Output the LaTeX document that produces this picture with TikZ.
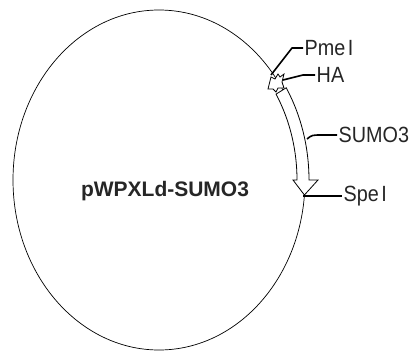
\documentclass[tikz,border=0pt]{standalone}
\usepackage{fontspec}
\setmainfont{Liberation Sans}
\newfontfamily\lblfont[FakeStretch=0.9]{Liberation Sans}
\usetikzlibrary{shapes.geometric}
\tikzset{
  lbl/.style={font=\lblfont\fontsize{22}{22}\selectfont, anchor=west, inner sep=1.5pt, text=black!85},
  leader/.style={line width=1.6pt, line join=round},
  feat/.style={draw=black, line width=0.8pt, fill=white, line join=miter},
}
\begin{document}
\begin{tikzpicture}[x=1pt,y=-1pt]
\useasboundingbox (0,0) rectangle (412,351);
\fill[white] (0,0) rectangle (412,351);
% plasmid backbone
\node[draw, ellipse, line width=0.7pt, minimum width=292pt, minimum height=340pt, inner sep=0pt] (plasmid) at (159,180) {};
\node[font=\bfseries\fontsize{21}{21}\selectfont, anchor=base, text=black!85] (name) at (165,196) {pWPXLd-SUMO3};
% SUMO3 arrow
\draw[feat] plot[domain=32:0, samples=30] ({159+150*cos(\x)},{180-174*sin(\x)})
  -- (318,180) -- (304.4,195) -- (293,180)
  -- plot[domain=0:32, samples=30] ({159+138*cos(\x)},{180-162*sin(\x)}) -- cycle;
% HA feature
\draw[feat] (268,89) -- (271,77) -- (275,79) -- (278,74) -- (280,77) -- (284,74) -- (282,82) -- (284,88) -- (278,88) -- (276,92) -- (273,89) -- cycle;
% labels
\node[lbl] (pme) at (303,48) {Pme\hspace{2.5pt}I};
\node[lbl] (ha) at (315,75) {HA};
\node[lbl] (sumo) at (337,135) {SUMO3};
\node[lbl] (spe) at (342,196) {Spe\hspace{2.5pt}I};
% leader lines
\coordinate (pmeS) at (271,75);
\coordinate (haS) at (283,80);
\coordinate (sumoS) at (307,139);
\coordinate (speS) at (303,196);
\draw[leader] (pmeS) -- (292,48) -- (pme.west);
\draw[leader] (haS) -- (303,75) -- (ha.west);
\draw[leader] (sumoS) .. controls (312,135) .. (322,135) -- (sumo.west);
\draw[leader] (speS) -- (spe.west);
\end{tikzpicture}
\end{document}
